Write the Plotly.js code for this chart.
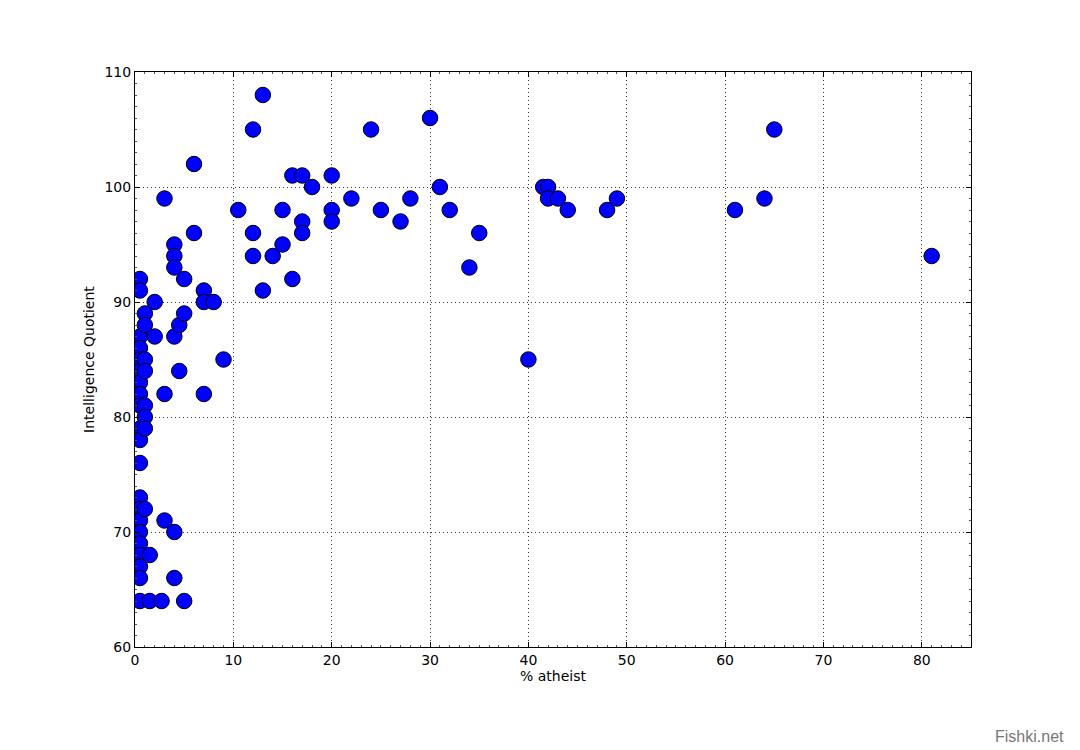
<!DOCTYPE html>
<html>
<head>
<meta charset="utf-8">
<script src="https://cdn.plot.ly/plotly-3.0.1.min.js"></script>
<style>html,body{margin:0;padding:0;background:#fff;}#chart{width:1080px;height:750px;}</style>
</head>
<body>
<div id="chart"></div>
<script>
// % atheist per country
const atheistPct = [
  0.5,0.5,0.5,0.5,0.5,0.5,0.5,0.5,0.5,0.5,0.5,0.5,0.5,0.5,0.5,0.5,0.5,0.5,0.5,0.5,0.5,
  1,1,1,1,1,1,1,1,
  1.5,1.5,
  2,2,
  2.7,
  3,3,3,
  4,4,4,4,4,4,
  4.5,4.5,
  5,5,5,
  6,6,
  7,7,7,
  8,
  9,
  10.5,
  12,12,12,
  13,13,
  14,
  15,15,
  16,16,
  17,17,17,
  18,
  20,20,20,
  22,24,25,27,28,30,31,32,34,35,40,
  41.5,42,42,43,44,48,49,61,64,65,81
];
// Intelligence Quotient per country
const iq = [
  92,91,87,86,85,84,83,82,81,79,78,76,73,72,71,70,69,68,67,66,64,
  89,88,85,84,81,80,79,72,
  68,64,
  90,87,
  64,
  99,82,71,
  95,94,93,87,70,66,
  88,84,
  92,89,64,
  102,96,
  91,90,82,
  90,
  85,
  98,
  105,96,94,
  108,91,
  94,
  98,95,
  101,92,
  101,97,96,
  100,
  101,98,97,
  99,105,98,97,99,106,100,98,93,96,85,
  100,100,99,99,98,98,99,98,99,105,94
];
const xTicks = [0,10,20,30,40,50,60,70,80];
const yTicks = [60,70,80,90,100,110];
const xTitle = '% atheist';
const yTitle = 'Intelligence Quotient';
const watermark = 'Fishki.net';

const font = {family: 'DejaVu Sans, sans-serif', size: 14, color: '#000'};
const axisCommon = {
  showline: true, linecolor: '#000', linewidth: 1, mirror: 'allticks',
  ticks: 'inside', ticklen: 5, tickwidth: 1, tickcolor: '#000',
  showgrid: true, gridcolor: '#333', gridwidth: 1, griddash: '1px,3px',
  zeroline: false, tickfont: font
};

Plotly.newPlot('chart', [{
  type: 'scatter', mode: 'markers', x: atheistPct, y: iq,
  marker: {size: 15.5, color: '#0000ff', line: {color: '#000', width: 1}},
  hoverinfo: 'x+y'
}], {
  width: 1080, height: 750,
  paper_bgcolor: '#fff', plot_bgcolor: '#fff',
  margin: {l: 135, r: 109, t: 72, b: 103},
  showlegend: false,
  font: font,
  xaxis: Object.assign({}, axisCommon, {
    range: [0, 85], tickvals: xTicks, ticktext: xTicks.map(String),
    minor: {ticks: 'inside', ticklen: 2, tickcolor: '#555', showgrid: false, dtick: 1},
    title: {text: xTitle, font: {family: 'DejaVu Sans, sans-serif', size: 14, color: '#000'}, standoff: 4}
  }),
  yaxis: Object.assign({}, axisCommon, {
    range: [60, 110], tickvals: yTicks, ticktext: yTicks.map(String),
    minor: {ticks: 'inside', ticklen: 2, tickcolor: '#555', showgrid: false, dtick: 1},
    title: {text: yTitle, font: {family: 'DejaVu Sans, sans-serif', size: 14, color: '#000'}, standoff: 6}
  }),
  annotations: [{
    text: watermark, xref: 'paper', yref: 'paper', x: 1.1136, y: -0.155,
    xanchor: 'right', yanchor: 'middle', showarrow: false,
    font: {family: 'Liberation Sans, Arial, sans-serif', size: 16, color: '#777'}
  }]
}, {displayModeBar: false, staticPlot: true});
</script>
</body>
</html>
